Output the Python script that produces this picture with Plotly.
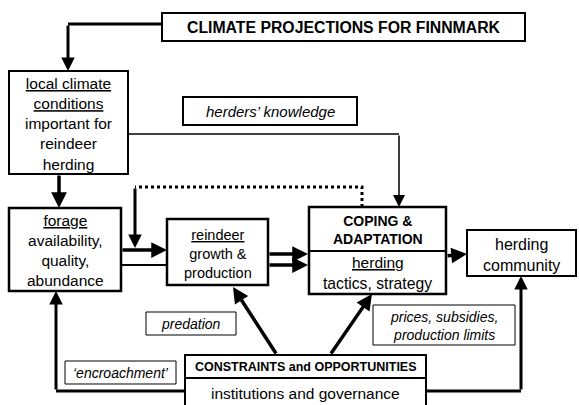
import plotly.graph_objects as go

# ---- diagram content (text) ----
box_labels = {
    "climate": "<b>CLIMATE PROJECTIONS FOR FINNMARK</b>",
    "local": "<u>local climate</u><br><u>conditions</u><br>important for<br>reindeer<br>herding",
    "knowledge": "<i>herders\u2019 knowledge</i>",
    "forage": "<u>forage</u><br>availability,<br>quality,<br>abundance",
    "reindeer": "<u>reindeer</u><br>growth &<br>production",
    "coping_head": "<b>COPING &<br>ADAPTATION</b>",
    "coping_sub1": "<u>herding</u>",
    "coping_sub2": "tactics, strategy",
    "community": "herding<br>community",
    "prices": "<i>prices, subsidies,<br>production limits</i>",
    "predation": "<i>predation</i>",
    "encroach": "<i>\u2018encroachment\u2019</i>",
    "constr_head": "<b>CONSTRAINTS and OPPORTUNITIES</b>",
    "constr_sub": "institutions and governance",
}

# ---- geometry (x0, y0, x1, y1, border width) ----
boxes = {
    "climate": (162, 13, 525, 41, 2),
    "local": (9, 71, 128, 174, 2),
    "knowledge": (183, 97, 357, 125, 2),
    "forage": (9, 208, 121, 291, 2.5),
    "reindeer": (167, 219, 268, 285, 2.5),
    "coping": (309, 207, 446, 294, 2.5),
    "community": (467, 230, 576, 276, 2),
    "prices": (373, 305, 515, 345, 1),
    "predation": (146, 312, 236, 335, 1),
    "encroach": (65, 361, 176, 384, 1),
    "constr": (185, 355, 426, 408, 2),
}

texts = [
    ("climate", 343.5, 27.5, 15.8),
    ("local", 68.5, 124, 15.5),
    ("knowledge", 270, 111.5, 15),
    ("forage", 65, 250.5, 15.5),
    ("reindeer", 217.5, 254, 14.5),
    ("coping_head", 377.5, 229.5, 14),
    ("coping_sub1", 377.5, 262, 15.5),
    ("coping_sub2", 377.5, 283, 15.7),
    ("community", 521.5, 254.5, 16),
    ("prices", 444, 326, 14),
    ("predation", 191, 323.5, 14),
    ("encroach", 120.5, 372.5, 14),
    ("constr_head", 305.5, 367, 12.5),
    ("constr_sub", 305.5, 393, 15.5),
]

# plain polylines (no head)
lines = [
    ([162, 68], [24, 24], 3, "solid"),
    ([128, 399], [134, 134], 1.5, "solid"),
    ([362, 362, 135], [207, 187, 187], 3, "dot"),
    ([121, 167], [265, 265], 2, "solid"),
    ([185, 56], [391, 391], 3, "solid"),
    ([426, 521], [391, 391], 3, "solid"),
    ([309, 446], [251, 251], 2, "solid"),
    ([185, 426], [378, 378], 2, "solid"),
]

# arrows: (from x, from y, to x, to y, width)
arrows = [
    (68, 24, 68, 71, 3),
    (59, 174, 59, 208, 3.5),
    (399, 134, 399, 207, 1.5),
    (135, 187, 135, 248, 3),
    (121, 250, 167, 250, 3.5),
    (268, 254, 308, 254, 3.5),
    (268, 265, 308, 265, 3.5),
    (446, 256, 467, 254, 3.5),
    (277, 355, 233, 287, 3.5),
    (330, 355, 372, 294, 3.5),
    (56, 391, 56, 291, 3),
    (521, 391, 521, 276, 3),
]

fig = go.Figure()

shapes = []
for k, (x0, y0, x1, y1, w) in boxes.items():
    shapes.append(dict(type="rect", xref="x", yref="y", x0=x0, y0=y0, x1=x1, y1=y1,
                       line=dict(color="black", width=w), fillcolor="white", layer="below"))
for xs, ys, w, dash in lines:
    path = "M " + " L ".join(f"{x},{y}" for x, y in zip(xs, ys))
    shapes.append(dict(type="path", xref="x", yref="y", path=path,
                       line=dict(color="black", width=w, dash=dash), layer="above"))

annotations = []
for key, x, y, size in texts:
    annotations.append(dict(x=x, y=y, xref="x", yref="y", text=box_labels[key],
                            showarrow=False, xanchor="center", yanchor="middle",
                            font=dict(family="Liberation Sans, Arial, sans-serif", size=size, color="black")))
for x0, y0, x1, y1, w in arrows:
    annotations.append(dict(x=x1, y=y1, ax=x0, ay=y0, xref="x", yref="y", axref="x", ayref="y",
                            text="", showarrow=True, arrowhead=2, arrowsize=0.9 if w > 2 else 1.6,
                            arrowwidth=w, arrowcolor="black", standoff=0, startstandoff=0))

fig.update_layout(
    width=579, height=405, margin=dict(l=0, r=0, t=0, b=0),
    plot_bgcolor="white", paper_bgcolor="white",
    xaxis=dict(range=[0, 579], visible=False, fixedrange=True),
    yaxis=dict(range=[405, 0], visible=False, fixedrange=True),
    shapes=shapes, annotations=annotations, showlegend=False,
)
fig.write_html("out.html", config={"displayModeBar": False},
               post_script="document.body.style.margin='0';document.body.style.overflow='hidden';")
